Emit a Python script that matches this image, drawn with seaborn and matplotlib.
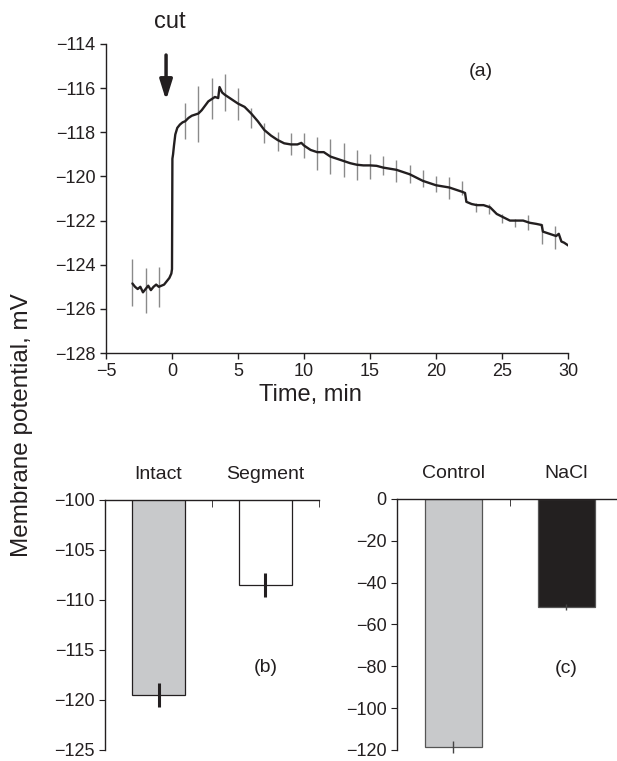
import matplotlib
matplotlib.use("Agg")
import matplotlib.pyplot as plt
import seaborn as sns

# trace (a): membrane potential after cutting
time_min = [-3.0, -2.8, -2.6, -2.4, -2.2, -2.0, -1.8, -1.6, -1.4, -1.2, -1.0, -0.8, -0.6, -0.4,
            -0.2, -0.05, 0.0, 0.03, 0.08, 0.15, 0.25, 0.4, 0.6, 0.8, 1.0, 1.25, 1.5, 1.75, 2.0,
            2.25, 2.5, 2.75, 3.0, 3.25, 3.5, 3.6, 3.8, 4.0, 4.25, 4.5, 4.75, 5.0, 5.5, 6.0, 6.5,
            7.0, 7.5, 8.0, 8.5, 9.0, 9.5, 9.8, 10.0, 10.5, 11.0, 11.5, 12.0, 12.5, 13.0, 13.5,
            14.0, 14.5, 15.0, 15.5, 16.0, 16.5, 17.0, 17.5, 18.0, 18.5, 19.0, 19.5, 20.0, 20.5,
            21.0, 21.5, 22.0, 22.2, 22.3, 22.7, 23.1, 23.6, 24.1, 24.6, 25.1, 25.6, 26.1, 26.6,
            27.1, 27.6, 28.0, 28.1, 28.6, 29.1, 29.3, 29.5, 29.7, 29.95, 30.2]
potential = [-124.85, -125.0, -125.1, -125.0, -125.25, -125.1, -124.95, -125.15, -125.0, -124.9,
             -125.0, -124.95, -124.9, -124.75, -124.6, -124.4, -124.2, -119.2, -119.0, -118.6,
             -118.1, -117.8, -117.65, -117.55, -117.5, -117.35, -117.25, -117.2, -117.15, -117.0,
             -116.8, -116.6, -116.5, -116.4, -116.45, -115.95, -116.2, -116.3, -116.4, -116.5,
             -116.6, -116.7, -116.85, -117.15, -117.5, -117.9, -118.15, -118.35, -118.5, -118.55,
             -118.55, -118.48, -118.6, -118.8, -118.9, -118.9, -119.1, -119.2, -119.3, -119.4,
             -119.47, -119.5, -119.5, -119.52, -119.6, -119.65, -119.7, -119.8, -119.9, -120.05,
             -120.2, -120.3, -120.4, -120.45, -120.5, -120.6, -120.7, -120.75, -121.15, -121.25,
             -121.3, -121.3, -121.4, -121.7, -121.85, -122.0, -122.0, -122.0, -122.1, -122.15,
             -122.2, -122.5, -122.6, -122.7, -122.6, -122.95, -123.0, -123.1, -123.2]

# error bars on the trace, one per minute
err_t = [-3, -2, -1, 1, 2, 3, 4, 5, 6, 7, 8, 9, 10, 11, 12, 13, 14, 15, 16, 17, 18, 19, 20,
         21, 22, 23, 24, 25, 26, 27, 28, 29]
err_mean = [-124.8, -125.16, -125.0, -117.5, -117.18, -116.48, -116.2, -116.73, -117.34, -118.05,
            -118.4, -118.55, -118.6, -118.98, -119.1, -119.27, -119.48, -119.55, -119.52, -119.77,
            -119.9, -120.11, -120.36, -120.52, -120.52, -121.42, -121.48, -121.9, -122.1, -122.1,
            -122.6, -122.76]
err_sd = [1.05, 1.02, 0.91, 0.82, 1.27, 0.93, 0.84, 0.73, 0.45, 0.45, 0.43, 0.5, 0.55, 0.75,
          0.8, 0.77, 0.66, 0.55, 0.43, 0.5, 0.41, 0.39, 0.36, 0.48, 0.3, 0.2, 0.21, 0.19, 0.19,
          0.34, 0.44, 0.53]

# (b) intact vs segment
cats_b = ["Intact", "Segment"]
vals_b = [-119.5, -108.5]
errs_b = [1.2, 1.2]

# (c) control vs NaCl
cats_c = ["Control", "NaCl"]
vals_c = [-118.5, -51.5]
errs_c = [3.0, 1.5]

sns.set_style("ticks")
plt.rcParams['font.family'] = ['Liberation Sans', 'DejaVu Sans']
plt.rcParams['axes.linewidth'] = 1.0
plt.rcParams['axes.edgecolor'] = '#231f20'
plt.rcParams['xtick.color'] = '#231f20'
plt.rcParams['ytick.color'] = '#231f20'
plt.rcParams['text.color'] = '#231f20'

dark = '#231f20'

fig = plt.figure(figsize=(6.17, 7.61), dpi=100)
ax_a = fig.add_axes([0.1718, 0.5361, 0.7488, 0.4061])
ax_b = fig.add_axes([0.1702, 0.0145, 0.3468, 0.3285])
ax_c = fig.add_axes([0.6434, 0.0145, 0.3663, 0.3298])

# ---- panel (a)
ax_a.errorbar(err_t, err_mean, yerr=err_sd, fmt='none', ecolor='#8a8a8a', elinewidth=1.0,
              capsize=0, zorder=1)
sns.lineplot(x=time_min, y=potential, ax=ax_a, color=dark, lw=1.7, zorder=2)
ax_a.set_xlim(-5, 30)
ax_a.set_ylim(-128, -114)
ax_a.set_xticks(range(-5, 31, 5))
ax_a.set_yticks(range(-128, -113, 2))
ax_a.tick_params(labelsize=13, length=4, width=1, direction='out')
sns.despine(ax=ax_a)
ax_a.annotate('', xy=(-0.45, -116.55), xytext=(-0.45, -114.5),
              arrowprops=dict(arrowstyle='-|>,head_length=0.8,head_width=0.25', lw=2.5,
                              color=dark, mutation_scale=15, shrinkA=0, shrinkB=0))
fig.text(170 / 617, 1 - 22 / 761, 'cut', fontsize=17, ha='center', va='center')
fig.text(481 / 617, 1 - 72 / 761, '(a)', fontsize=14, ha='center', va='center')
fig.text(310 / 617, 1 - 395 / 761, 'Time, min', fontsize=17, ha='center', va='center')

# ---- panel (b)
sns.barplot(x=cats_b, y=vals_b, hue=cats_b, palette=['#c8c9cb', 'white'], legend=False,
            width=0.5, edgecolor=dark, linewidth=0.9, ax=ax_b)
ax_b.errorbar([0, 1], vals_b, yerr=errs_b, fmt='none', ecolor=dark, elinewidth=2.2, capsize=0)
ax_b.set_ylim(-125, -100)
ax_b.set_yticks(range(-125, -99, 5))
ax_b.text(1, -116.8, '(b)', fontsize=14, ha='center', va='center')

# ---- panel (c)
sns.barplot(x=cats_c, y=vals_c, hue=cats_c, palette=['#c8c9cb', dark], legend=False,
            width=0.5, edgecolor='#555555', linewidth=0.9, ax=ax_c)
ax_c.errorbar([0, 1], vals_c, yerr=errs_c, fmt='none', ecolor='#444444', elinewidth=1.0,
              capsize=0, clip_on=False)
ax_c.set_ylim(-120, 0)
ax_c.set_yticks(range(-120, 1, 20))
ax_c.text(1, -81, '(c)', fontsize=14, ha='center', va='center')

for ax in (ax_b, ax_c):
    ax.set_xlim(-0.5, 1.5)
    ax.set_xlabel('')
    ax.set_ylabel('')
    sns.despine(ax=ax, top=False, bottom=True)
    ax.xaxis.tick_top()
    ax.tick_params(axis='x', which='major', length=0, pad=12, labelsize=14)
    ax.set_xticks([0.5, 1.5], minor=True)
    ax.tick_params(axis='x', which='minor', top=True, bottom=False, direction='in', length=5)
    ax.tick_params(axis='y', labelsize=13, length=4, direction='out')

fig.text(22 / 617, 1 - 425 / 761, 'Membrane potential, mV', fontsize=17.5, rotation=90,
         ha='center', va='center')

fig.savefig('out.png', dpi=100)
